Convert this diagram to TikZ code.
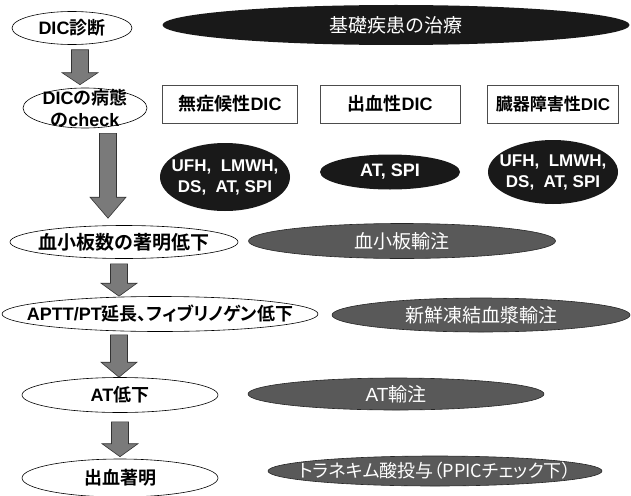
\documentclass[tikz,border=0pt]{standalone}
\usepackage{fontspec}
\setmainfont{Liberation Sans}
\newfontfamily\jp{Noto Sans CJK JP}[BoldFont={* Bold}, RawFeature=+palt]
\newcommand\jtxt[1]{{\jp #1}}
\usetikzlibrary{shapes.geometric,calc}

\begin{document}
\begin{tikzpicture}[x=1pt, y=-1pt,
        % text set inside the shapes
        txt/.style={font=\fontsize{18}{22}\selectfont\bfseries, align=center, inner sep=0pt},
        small/.style={font=\fontsize{17}{21}\selectfont\bfseries},
        wtxt/.style={txt, text=white},
        gtxt/.style={wtxt, font=\fontsize{19}{23}\selectfont},
        % white ellipses of the main course
        stage/.style={ellipse, draw, line width=0.6pt, fill=white, inner sep=0pt},
        % black ellipses
        drug/.style={ellipse, fill=black!90, inner sep=0pt},
        % gray ellipses
        therapy/.style={ellipse, draw=black!85, fill=black!65, line width=0.6pt, inner sep=0pt},
        % boxes for the DIC types
        kind/.style={rectangle, draw=black!70, line width=0.6pt, inner sep=0pt, minimum height=38},
        % fat down arrows
        fat/.style={draw=black!80, fill=black!52, line width=0.6pt,
            to path={let \p1=(\tikztostart), \p2=(\tikztotarget) in
                (\x1-8.5pt,\y1) -- (\x1+8.5pt,\y1) -- (\x1+8.5pt,\y2+#1)
                -- (\x1+18pt,\y2+#1) -- (\x1,\y2) -- (\x1-18pt,\y2+#1)
                -- (\x1-8.5pt,\y2+#1) -- cycle}},
        fat/.default=13pt
    ]

    \useasboundingbox (0,0) rectangle (631,495);

    % Main course on the left
    \node[stage, minimum width=120, minimum height=33,
        label={[txt]center:DIC\jtxt{診断}}] (dx) at (72,28) {};
    \node[stage, minimum width=124, minimum height=40,
        label={[txt]center:DIC\jtxt{の病態}\\\jtxt{の}check}] (chk) at (85,108) {};
    \node[stage, minimum width=228, minimum height=33,
        label={[txt, font=\fontsize{19}{23}\selectfont\bfseries]center:\jtxt{血小板数の著明低下}}] (plt) at (124,242) {};
    \node[stage, minimum width=316, minimum height=35,
        label={[txt]center:APTT/PT\jtxt{延長、フィブリノゲン低下}}] (aptt) at (160,314) {};
    \node[stage, minimum width=196, minimum height=35,
        label={[txt]center:AT\jtxt{低下}}] (atl) at (120,395) {};
    \node[stage, minimum width=196, minimum height=38,
        label={[txt]center:\jtxt{出血著明}}] (bld) at (120,478) {};

    % Treatment of the underlying disease
    \node[drug, minimum width=467, minimum height=40,
        label={[gtxt]center:\jtxt{基礎疾患の治療}}] (base) at (396,25) {};

    % Types of DIC
    \node[kind, minimum width=135, label={[txt]center:\jtxt{無症候性}DIC}] (asym) at (230,104) {};
    \node[kind, minimum width=140, label={[txt]center:\jtxt{出血性}DIC}] (bleed) at (390,104) {};
    \node[kind, minimum width=131, label={[txt, small]center:\jtxt{臓器障害性}DIC}] (organ) at (553,104) {};

    % Anticoagulants
    \node[drug, minimum width=130, minimum height=68,
        label={[wtxt, small]center:UFH,\ \ LMWH,\\DS,\ \ AT, SPI}] (drA) at (225,177) {};
    \node[drug, minimum width=140, minimum height=35,
        label={[wtxt]center:AT, SPI}] (drB) at (390,172) {};
    \node[drug, minimum width=130, minimum height=64,
        label={[wtxt, small]center:UFH,\ \ LMWH,\\DS,\ \ AT, SPI}] (drC) at (553,172) {};

    % Replacement therapy
    \node[therapy, minimum width=307, minimum height=35,
        label={[gtxt]center:\jtxt{血小板輸注}}] (tplt) at (402,241) {};
    \node[therapy, minimum width=298, minimum height=34,
        label={[gtxt]center:\jtxt{新鮮凍結血漿輸注}}] (tffp) at (481,315) {};
    \node[therapy, minimum width=296, minimum height=32,
        label={[gtxt]center:AT\jtxt{輸注}}] (tat) at (396,394) {};
    \node[therapy, minimum width=334, minimum height=30,
        label={[gtxt, font=\fontsize{18}{22}\selectfont]center:\jtxt{トラネキム酸投与（PPICチェック下）}}] (ttxa) at (435,471) {};

    % Arrows down the main course
    \draw[fat=12pt] ([xshift=8pt,yshift=-5pt]dx.south) to ([yshift=3pt]chk.north);
    \draw[fat=21pt] ([xshift=23pt,yshift=-5pt]chk.south) to ([yshift=7pt]plt.north);
    \draw[fat] ([xshift=-5pt,yshift=-5pt]plt.south) to (aptt.north);
    \draw[fat=15pt] ([xshift=-41pt,yshift=-3pt]aptt.south) to (atl.north);
    \draw[fat] ([yshift=-9pt]atl.south) to ([yshift=2pt]bld.north);

\end{tikzpicture}
\end{document}
